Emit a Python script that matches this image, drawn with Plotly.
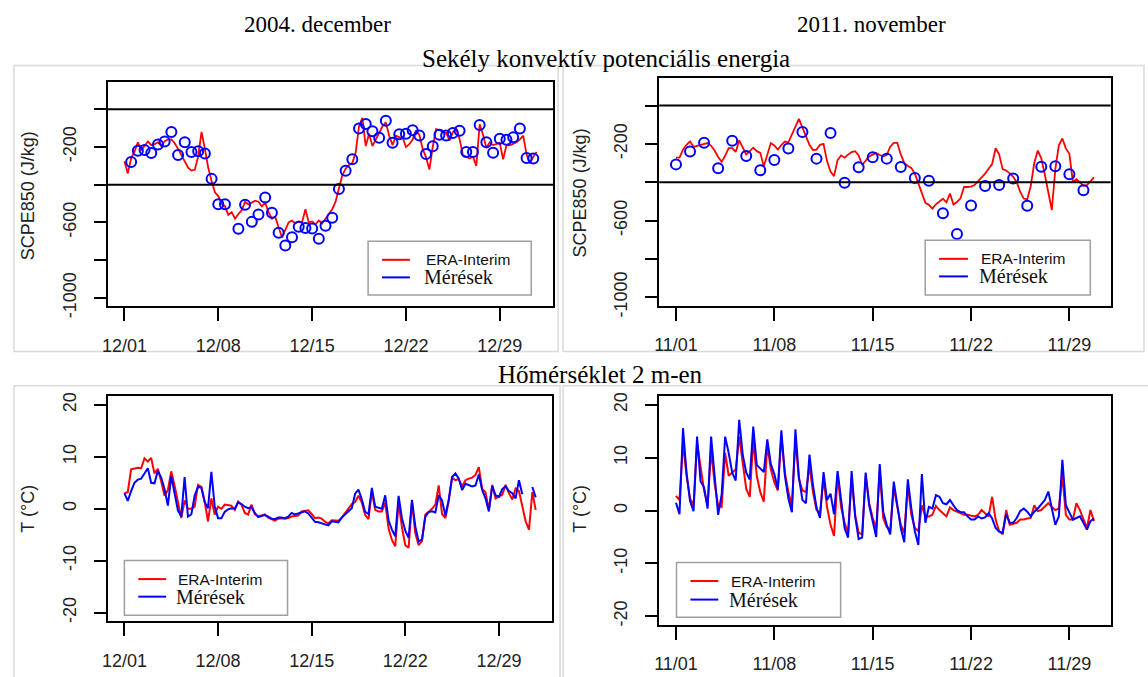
import plotly.graph_objects as go

# ---------------- DATA ----------------
# SCPE850 (J/kg), December 2004, ERA-Interim (6-hourly, starting 12/01 00 UTC)
era_scpe_dec = [
    -275, -340, -260, -225,  -175, -215, -195, -170,  -190, -185, -175, -195,
    -170, -160, -160, -180,  -210, -245, -280, -310,  -325, -320, -250, -120,
    -210, -310, -380, -440,  -460, -500, -515, -560,  -545, -580, -555, -535,
    -490, -505, -495, -485,  -490, -515, -495, -545,  -580, -570, -625, -680,
    -640, -600, -590, -605,  -595, -600, -530, -600,  -595, -610, -590, -605,
    -580, -555, -530, -490,  -420, -350, -315, -295,  -285, -230, -90, -45,
    -195, -130, -195, -160,  -130, -90, -70, -140,  -190, -140, -148, -150,
    -200, -185, -160, -113,  -135, -210, -255, -320,  -200, -105, -110, -122,
    -125, -165, -122, -104,  -157, -243, -252, -261,  -252, -300, -80, -135,
    -205, -175, -190, -183,  -178, -265, -191, -191,  -185, -175, -160, -140,
    -240, -287, -252, -226,
]
# SCPE850 measurements, December 2004 (12-hourly, starting 12/01 12 UTC)
obs_scpe_dec = [
    -280, -220, -216, -232, -187, -171, -121, -242, -175, -227, -222, -234,
    -369, -504, -504, None, -634, -506, -597, -558, -468, -549, -655, -722,
    -679, -623, -629, -632, -686, -618, -575, -423, -326, -265, -102, -78,
    -116, -151, -61, -178, -133, -130, -111, -139, -237, -196, -135, -139,
    -126, -114, -227, -227, -83, -175, -230, -156, -161, -149, -102, -258,
    -261,
]
# SCPE850, November 2011, ERA-Interim (6-hourly)
era_scpe_nov = [
    -272, -272, -230, -205,  -187, -216, -210, -204,  -198, -196, -210, -235,
    -268, -294, -262, -222,  -222, -242, -182, -220,  -255, -238, -220, -238,
    -247, -318, -255, -196,  -208, -230, -206, -188,  -192, -148, -111, -70,
    -115, -160, -205, -232,  -230, -205, -200, -290,  -345, -368, -285, -260,
    -272, -256, -243, -238,  -260, -310, -285, -266,  -256, -248, -258, -265,
    -258, -215, -195, -195,  -255, -300, -315, -325,  -355, -410, -459, -508,
    -518, -538, -515, -502,  -486, -505, -459, -516,  -503, -484, -425, -425,
    -423, -415, -395, -378,  -355, -330, -305, -223,  -255, -332, -339, -354,
    -372, -400, -450, -485,  -490, -420, -300, -235,  -275, -360, -460, -545,
    -332, -208, -172, -225,  -252, -400, -384, -400,  -418, -415, -395, -375,
]
# SCPE850 measurements, November 2011 (daily, 00 UTC)
obs_scpe_nov = [
    -307, -240, -194, -327, -184, -263, -338, -284, -224, -138,
    -277, -143, -403, -322, -270, -277, -321, -378, -392, -562,
    -670, -522, -420, -414, -381, -523, -319, -317, -358, -442,
]
# 2 m temperature (°C), December 2004 (6-hourly)
era_t_dec = [
    3.0, 3.2, 7.6, 7.7,  7.9, 7.8, 9.7, 9.1,  9.8, 6.8, 7.7, 5.3,
    2.5, 3.6, 7.2, 4.5,  1.2, -1.8, 1.6, 0.0,  0.0, 0.4, 4.6, 4.2,
    1.4, -2.4, 2.0, -1.1,  0.4, 0.0, 0.8, 0.7,  0.6, -0.2, 1.4, 0.8,
    -0.8, -1.1, 0.8, -1.0,  -1.4, -1.3, -1.1, -1.7,  -2.0, -2.3, -1.9, -1.8,
    -1.9, -1.8, -1.5, -1.4,  -1.3, -0.5, -0.4, -0.3,  -1.0, -1.8, -1.7, -1.9,
    -2.5, -2.8, -2.2, -2.2,  -2.3, -1.7, -0.9, 0.1,  0.9, 1.3, 2.5, 1.2,
    -1.2, -2.0, 3.3, -0.2,  -0.5, -0.5, 1.2, -3.8,  -6.0, -7.2, 1.2, -3.5,
    -7.0, -7.5, 1.4, -4.7,  -7.0, -6.2, -1.1, -0.6,  0.0, 0.8, 4.5, -1.0,
    -1.8, 1.5, 6.0, 5.5,  5.7, 4.3, 5.5, 5.8,  6.0, 6.5, 8.0, 3.8,
    3.2, -0.2, 4.6, 2.0,  2.3, 2.7, 4.6, 3.0,  1.8, 3.9, 3.4, 0.2,
    -2.4, -4.0, 3.2, -0.2,
]
obs_t_dec = [
    3.0, 1.5, 3.4, 5.0,  5.6, 5.8, 6.8, 7.8,  5.0, 4.9, 7.3, 6.0,
    3.8, 0.6, 6.3, 2.9,  -0.3, -1.5, 6.1, -1.5,  -1.1, 2.5, 4.2, 4.1,
    1.3, 0.1, 7.1, 0.5,  -1.8, -1.8, -0.6, -0.1,  0.1, 0.0, 1.2, 0.9,
    0.4, 0.1, 0.3, -0.8,  -1.6, -1.4, -1.2, -1.5,  -1.9, -2.0, -1.7, -1.7,
    -1.8, -1.5, -0.8, -1.1,  -0.9, -0.7, -0.5, -0.9,  -1.6, -2.5, -2.6, -2.8,
    -3.0, -3.2, -2.4, -2.5,  -2.6, -1.7, -1.1, -0.5,  0.1, 2.9, 3.7, 1.8,
    -0.6, -1.0, 4.0, 0.4,  0.2, 0.0, 2.6, -2.2,  -4.0, -5.3, 2.5, -1.8,
    -4.2, -5.6, 1.7, -3.4,  -6.3, -5.9, -1.5, -0.6,  -0.5, -0.7, 2.6, 1.6,
    -1.3, 1.8, 6.1, 6.8,  5.8, 3.6, 4.8, 4.6,  4.3, 4.5, 6.6, 3.6,
    2.0, -0.5, 4.4, 2.6,  2.3, 3.8, 4.3, 3.4,  3.0, 2.0, 5.5, 2.8,
    None, None, 4.2, 2.2,
]
# 2 m temperature (°C), November 2011 (6-hourly)
era_t_nov = [
    2.8, 2.0, 12.8, 6.6,  2.3, 1.0, 12.8, 7.8,  3.8, 1.0, 11.5, 5.1,
    1.0, 0.7, 10.9, 6.6,  7.2, 7.8, 14.0, 8.8,  4.1, 2.6, 13.4, 6.6,
    3.5, 1.7, 12.5, 7.8,  5.4, 3.8, 14.0, 7.2,  3.5, 1.0, 13.4, 6.0,
    3.8, 3.5, 8.5, 3.5,  0.1, -0.5, 6.0, 0.7,  -2.7, -4.8, 6.6, 0.7,
    -2.3, -4.2, 6.0, -0.8,  -4.2, -4.5, 6.6, 1.4,  -1.4, -3.3, 7.5, -1.4,
    -3.1, -3.8, 4.4, 0.7,  -2.7, -4.2, 4.8, -0.8,  -3.3, -3.9, 1.0, -1.1,
    -1.1, -0.8, 0.9, 0.1,  -0.5, -1.1, 0.6, 0.1,  -0.2, -0.5, -0.8, -0.8,
    -0.9, -1.1, -0.8, 0.1,  -0.5, -1.1, 2.6, -1.7,  -3.9, -4.5, 0.1, -2.7,
    -2.5, -2.3, -1.7, -1.7,  -1.5, -1.4, 1.0, -0.1,  0.1, 0.7, 1.4, 0.7,
    0.1, 0.4, 6.6, -0.8,  -1.7, -1.7, 1.4, 0.1,  -1.7, -3.3, 0.1, -2.0,
]
obs_t_nov = [
    1.5, -0.7, 15.6, 7.2,  1.8, -0.1, 14.0, 5.5,  4.4, 0.4, 14.0, 6.0,
    -0.8, 3.0, 14.0, 10.9,  7.2, 5.7, 17.2, 10.6,  7.2, 5.9, 15.9, 8.6,
    8.0, 7.3, 13.5, 8.8,  6.9, 4.1, 15.2, 6.6,  2.3, -0.3, 15.4, 6.3,
    2.0, 1.4, 10.6, 4.8,  0.6, -1.4, 7.3, 2.0,  3.2, -0.7, 7.5, 1.7,
    -3.3, -5.1, 7.5, -1.1,  -5.4, -5.1, 7.2, 1.0,  -2.0, -5.0, 8.8, -0.2,
    -2.7, -4.5, 5.5, 1.0,  -3.3, -6.0, 5.9, 0.4,  -3.9, -6.5, 6.9, -2.3,
    0.7, 0.4, 2.9, 2.6,  1.4, 1.2, 2.0, 1.0,  0.1, -0.3, -0.3, -1.1,
    -1.7, -1.7, -1.1, -1.5,  -1.3, -0.5, -1.5, -3.3,  -4.0, -4.2, -0.7, -2.3,
    -2.3, -1.4, -0.1, 0.4,  -0.2, -1.1, -0.2, 0.4,  1.2, 2.0, 3.6, 0.7,
    -2.7, -1.1, 9.6, 1.0,  -0.5, -1.7, -1.4, -1.1,  -2.3, -3.6, -2.0, -1.5,
]

tick_days = [0, 7, 14, 21, 28]
dec_tick_labels = ["12/01", "12/08", "12/15", "12/22", "12/29"]
nov_tick_labels = ["11/01", "11/08", "11/15", "11/22", "11/29"]
scpe_tick_vals = [0, -200, -400, -600, -800, -1000]
scpe_tick_text = ["", "-200", "", "-600", "", "-1000"]
t_tick_vals = [20, 10, 0, -10, -20]
t_tick_text = ["20", "10", "0", "-10", "-20"]
ref_lines = [0, -400]

# time coordinates (days since first day 00 UTC)
x_era_dec = [i / 4 for i in range(len(era_scpe_dec))]
x_obs_scpe_dec = [0.5 + i / 2 for i in range(len(obs_scpe_dec))]
x_era_nov = [i / 4 for i in range(len(era_scpe_nov))]
x_obs_scpe_nov = [float(i) for i in range(len(obs_scpe_nov))]
x_t_dec = [i / 4 for i in range(len(era_t_dec))]
x_t_nov = [i / 4 for i in range(len(era_t_nov))]

# ---------------- LAYOUT ----------------
W, H = 1148, 677
RED = "#ff0000"
BLUE = "#0000ff"
SANS = "Liberation Sans"
SERIF = "Liberation Serif"


def fx(p):
    return p / W


def fy(p):
    return 1 - p / H


# panel suffix -> plot box in pixels
boxes = {
    "": dict(x=(102.5, 550.0), y=(80.0, 309.5)),
    "2": dict(x=(656.7, 1110.5), y=(75.7, 309.0)),
    "3": dict(x=(102.5, 549.0), y=(402.0, 632.0)),
    "4": dict(x=(656.7, 1110.5), y=(402.0, 635.7)),
}

fig = go.Figure()


def add_line(x, y, color, ax, width=2.0):
    fig.add_trace(go.Scatter(x=x, y=y, mode="lines", line=dict(color=color, width=width),
                             xaxis="x" + ax, yaxis="y" + ax, showlegend=False,
                             connectgaps=False, hoverinfo="skip"))


def add_circles(x, y, ax):
    fig.add_trace(go.Scatter(x=x, y=y, mode="markers",
                             marker=dict(symbol="circle-open", size=10, color=BLUE,
                                         line=dict(width=2, color=BLUE)),
                             xaxis="x" + ax, yaxis="y" + ax, showlegend=False))


# top-left
add_line(x_era_dec, era_scpe_dec, RED, "", 1.8)
add_circles(x_obs_scpe_dec, obs_scpe_dec, "")
# top-right
add_line(x_era_nov, era_scpe_nov, RED, "2", 1.8)
add_circles(x_obs_scpe_nov, obs_scpe_nov, "2")
# bottom-left
add_line(x_t_dec, era_t_dec, RED, "3")
add_line(x_t_dec, obs_t_dec, BLUE, "3")
# bottom-right
add_line(x_t_nov, era_t_nov, RED, "4")
add_line(x_t_nov, obs_t_nov, BLUE, "4")

tickfont = dict(family=SANS, size=18, color="#222222")
axis_common = dict(showline=True, linecolor="black", linewidth=2, mirror=True,
                   ticks="outside", tickwidth=1.6, tickcolor="black",
                   showgrid=False, zeroline=False, tickfont=tickfont)

xranges = {"": [-1.23, 31.98], "2": [-1.19, 30.94], "3": [-1.23, 31.98], "4": [-1.19, 30.94]}
xlabels = {"": dec_tick_labels, "2": nov_tick_labels, "3": dec_tick_labels, "4": nov_tick_labels}

layout = dict(width=W, height=H, margin=dict(l=0, r=0, t=0, b=0),
              paper_bgcolor="white", plot_bgcolor="white", showlegend=False)

for k, b in boxes.items():
    xa = dict(axis_common, domain=[fx(b["x"][0]), fx(b["x"][1])], range=xranges[k],
              tickmode="array", tickvals=tick_days, ticktext=xlabels[k],
              anchor="y" + k, ticklen=13, ticklabelstandoff=9)
    if k in ("", "2"):
        ya = dict(axis_common, range=[-1044, 144], tickvals=scpe_tick_vals, ticktext=scpe_tick_text)
    else:
        ya = dict(axis_common, range=[-21.6, 21.6], tickvals=t_tick_vals, ticktext=t_tick_text)
    ya.update(domain=[fy(b["y"][1]), fy(b["y"][0])], anchor="x" + k, tickmode="array",
              tickangle=-90, ticklen=12, ticklabelstandoff=11)
    layout["xaxis" + k] = xa
    layout["yaxis" + k] = ya

fig.update_layout(**layout)

shapes = []
annotations = []

# light panel frames (pasted images)
frames = [(8, 63, 555, 356), (560, 63, 1144, 356), (8, 391, 557, 690), (560, 391, 1150, 690)]
for (x0, y0, x1, y1) in frames:
    shapes.append(dict(type="rect", xref="paper", yref="paper", x0=fx(x0), x1=fx(x1),
                       y0=fy(y1), y1=fy(y0), line=dict(color="#dadada", width=1.5),
                       fillcolor="rgba(0,0,0,0)", layer="below"))

# horizontal reference lines in SCPE panels
for k in ("", "2"):
    for v in ref_lines:
        shapes.append(dict(type="line", xref="x%s domain" % k, yref="y" + k, x0=0, x1=1,
                           y0=v, y1=v, line=dict(color="black", width=2)))

# legends (drawn as boxes with key lines and labels)
legends = [
    # box x0, y0, x1, y1, key x0, key x1, y red, y blue, text x
    (364, 243, 528, 298, 378, 406, 262, 280, 418),
    (924, 242, 1090, 298, 938, 967, 261, 279, 976),
    (119, 570, 283, 626, 133, 161, 589, 607, 169),
    (674, 572, 839, 628, 688, 716, 591, 610, 725),
]
for (bx0, by0, bx1, by1, kx0, kx1, yr, yb, tx) in legends:
    shapes.append(dict(type="rect", xref="paper", yref="paper", x0=fx(bx0), x1=fx(bx1),
                       y0=fy(by1), y1=fy(by0), line=dict(color="#a0a0a0", width=1.5),
                       fillcolor="white", layer="above"))
    shapes.append(dict(type="line", xref="paper", yref="paper", x0=fx(kx0), x1=fx(kx1),
                       y0=fy(yr), y1=fy(yr), line=dict(color=RED, width=2), layer="above"))
    shapes.append(dict(type="line", xref="paper", yref="paper", x0=fx(kx0), x1=fx(kx1),
                       y0=fy(yb), y1=fy(yb), line=dict(color=BLUE, width=2), layer="above"))
    annotations.append(dict(text="ERA-Interim", x=fx(tx + 2), y=fy(yr), xref="paper", yref="paper",
                            xanchor="left", yanchor="middle", showarrow=False,
                            font=dict(family=SANS, size=15.5, color="#111111")))
    annotations.append(dict(text="Mérések", x=fx(tx), y=fy(yb), xref="paper", yref="paper",
                            xanchor="left", yanchor="middle", showarrow=False,
                            font=dict(family=SERIF, size=20, color="#111111")))

# titles
titles = [
    ("2004. december", 313, 21, 23),
    ("2011. november", 870, 21, 23),
    ("Sekély konvektív potenciális energia", 603, 56, 25),
    ("Hőmérséklet 2 m-en", 598, 379, 25),
]
for (t, x, y, s) in titles:
    annotations.append(dict(text=t, x=fx(x), y=fy(y), xref="paper", yref="paper",
                            xanchor="center", yanchor="middle", showarrow=False,
                            font=dict(family=SERIF, size=s, color="black")))

# y axis titles
ytitles = [
    ("SCPE850 (J/kg)", 22, 196),
    ("SCPE850 (J/kg)", 577, 193),
    ("T (°C)", 22, 517),
    ("T (°C)", 577, 517),
]
for (t, x, y) in ytitles:
    annotations.append(dict(text=t, x=fx(x), y=fy(y), xref="paper", yref="paper",
                            xanchor="center", yanchor="middle", showarrow=False, textangle=-90,
                            font=dict(family=SANS, size=18, color="#222222")))

fig.update_layout(shapes=shapes, annotations=annotations)
fig.write_html("out.html", config={"displayModeBar": False},
               post_script="document.body.style.margin='0';document.body.style.overflow='hidden';")
